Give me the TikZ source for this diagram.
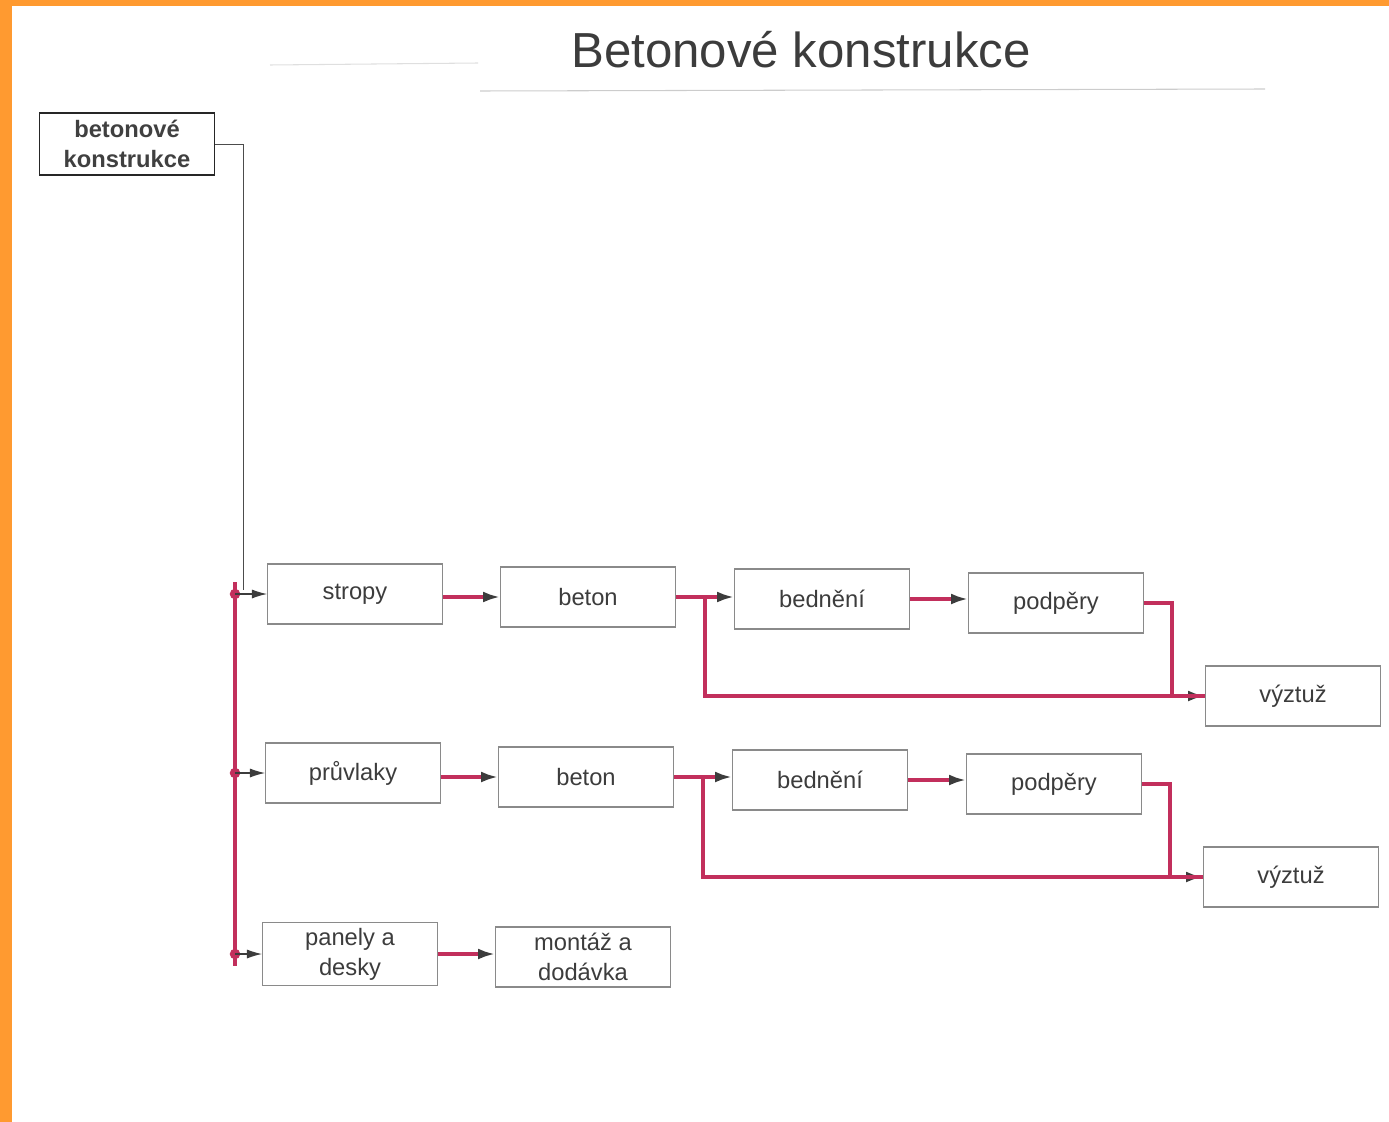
\documentclass[tikz,border=0pt]{standalone}
\usepackage{fontspec}
\setmainfont{Liberation Sans}
\usetikzlibrary{arrows.meta, positioning, calc}
\definecolor{FrameOrange}{HTML}{FF9A30}
\definecolor{InkRed}{HTML}{C22F5C}
\definecolor{InkGray}{HTML}{3C3C3C}
\definecolor{BoxGray}{HTML}{8A8A8A}

\begin{document}
\begin{tikzpicture}[
    x=0.02cm, y=-0.02cm,
    box/.style={rectangle, draw=BoxGray, line width=0.6pt, minimum width=3.5cm, minimum height=1.2cm,
                align=center, text=InkGray, font=\fontsize{13.5}{17}\selectfont},
    headbox/.style={box, draw=black!85, line width=1pt, minimum height=1.24cm, text=black!75,
                font=\bfseries\fontsize{13.5}{17}\selectfont},
    flow/.style={draw=InkRed, line width=1.8pt, -{Latex[length=0.34cm, width=0.22cm, color=InkGray]}},
    link/.style={draw=InkRed, line width=1.8pt},
    feed/.style={draw=InkGray, line width=0.6pt, -{Latex[length=0.3cm, width=0.18cm]}},
    guide/.style={draw=black!70, line width=0.5pt}
]
    \useasboundingbox (0,0) rectangle (1389,1122);

    % Frame and title
    \fill[FrameOrange] (0,0) rectangle (12,1122);
    \fill[FrameOrange] (0,0) rectangle (1389,6);
    \node[font=\fontsize{28}{32}\selectfont, text=InkGray] (title) at (801,50) {Betonové konstrukce};
    \draw[gray!40, line width=0.6pt] (480,91) -- (1265,89);
    \draw[gray!25, line width=0.6pt] (270,65) -- (478,63);

    % Boxes
    \node[headbox] (konstr) at (127,144) {betonové\\konstrukce};
    \node[box] (stropy) at (355,594) {stropy};
    \node[box] (beton1) at (588,597) {beton};
    \node[box] (bedn1)  at (822,599) {bednění};
    \node[box] (podp1)  at (1056,603) {podpěry};
    \node[box] (vyzt1)  at (1293,696) {výztuž};
    \node[box] (pruvl)  at (353,773) {průvlaky};
    \node[box] (beton2) at (586,777) {beton};
    \node[box] (bedn2)  at (820,780) {bednění};
    \node[box] (podp2)  at (1054,784) {podpěry};
    \node[box] (vyzt2)  at (1291,877) {výztuž};
    \node[box] (panely) at (350,954) {panely a\\desky};
    \node[box] (montaz) at (583,957) {montáž a\\dodávka};

    % Spine
    \coordinate (elbow) at (243,590);
    \coordinate (spinetop) at (235,582);
    \coordinate (spinebot) at (235,966);
    \draw[guide] (konstr.east) -| (elbow);
    \draw[link] (spinetop) -- (spinebot);
    \foreach \n in {stropy, pruvl, panely} {
        \fill[InkRed] (\n.west -| spinetop) circle (3pt);
        \draw[feed] (\n.west -| spinetop) -- (\n.west);
    }

    % Row 1
    \draw[flow] (stropy.east |- beton1) -- (beton1.west);
    \draw[flow] (beton1.east) -- (beton1.east -| bedn1.west);
    \coordinate (split1) at ($(beton1.east)!0.5!(beton1.east -| bedn1.west)$);
    \draw[flow] (split1) |- (vyzt1.west);
    \draw[flow] (bedn1.east) -- (bedn1.east -| podp1.west);
    \draw[link] (podp1.east) -- ++(28,0) |- (vyzt1.west);

    % Row 2
    \draw[flow] (pruvl.east |- beton2) -- (beton2.west);
    \draw[flow] (beton2.east) -- (beton2.east -| bedn2.west);
    \coordinate (split2) at ($(beton2.east)!0.5!(beton2.east -| bedn2.west)$);
    \draw[flow] (split2) |- (vyzt2.west);
    \draw[flow] (bedn2.east) -- (bedn2.east -| podp2.west);
    \draw[link] (podp2.east) -- ++(28,0) |- (vyzt2.west);

    % Row 3
    \draw[flow] (panely.east) -- (panely.east -| montaz.west);
\end{tikzpicture}
\end{document}
